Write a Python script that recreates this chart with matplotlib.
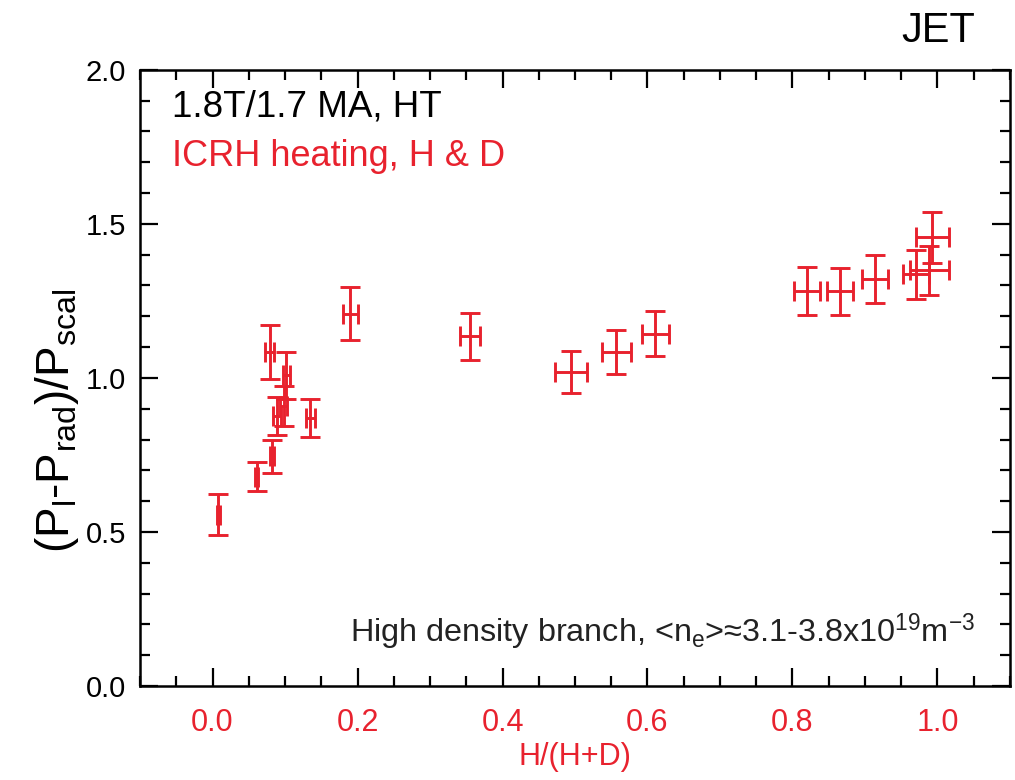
import matplotlib
matplotlib.use("Agg")
import matplotlib.pyplot as plt
from matplotlib.ticker import MultipleLocator

plt.rcParams['font.family'] = ['Liberation Sans', 'DejaVu Sans']
plt.rcParams['mathtext.default'] = 'regular'

# Data
h_frac = [0.008, 0.061, 0.082, 0.079, 0.089, 0.098, 0.102, 0.135, 0.190,
          0.355, 0.495, 0.557, 0.611, 0.820, 0.865, 0.914, 0.970, 0.989, 0.993]
p_ratio = [0.556, 0.680, 0.745, 1.084, 0.877, 0.908, 1.008, 0.870, 1.209,
           1.135, 1.018, 1.084, 1.144, 1.283, 1.281, 1.322, 1.336, 1.349, 1.456]
x_err = [0.002, 0.002, 0.003, 0.006, 0.006, 0.005, 0.005, 0.0065, 0.010,
         0.014, 0.022, 0.020, 0.018, 0.018, 0.018, 0.018, 0.018, 0.027, 0.023]
y_err = [0.067, 0.047, 0.053, 0.088, 0.061, 0.065, 0.075, 0.062, 0.086,
         0.076, 0.068, 0.072, 0.072, 0.078, 0.076, 0.078, 0.080, 0.080, 0.083]

x_ticks = [0.0, 0.2, 0.4, 0.6, 0.8, 1.0]
y_ticks = [0.0, 0.5, 1.0, 1.5, 2.0]

RED = '#E8222E'
NARROW = ['Liberation Sans Narrow', 'Liberation Sans', 'DejaVu Sans']

fig = plt.figure(figsize=(10.15, 7.8), dpi=100)
ax = fig.add_axes([0.138, 0.1205, 0.857, 0.79])

ax.errorbar(h_frac, p_ratio, xerr=x_err, yerr=y_err, fmt='none',
            ecolor=RED, elinewidth=2.1, capsize=7.5, capthick=2.1)

ax.set_xlim(-0.1, 1.1)
ax.set_ylim(0.0, 2.0)
ax.set_xticks(x_ticks)
ax.set_yticks(y_ticks)
ax.set_xticklabels([f'{v:.1f}' for v in x_ticks], color=RED, fontsize=22)
ax.set_yticklabels([f'{v:.1f}' for v in y_ticks], color='black', fontsize=21)
ax.xaxis.set_minor_locator(MultipleLocator(0.05))
ax.yaxis.set_minor_locator(MultipleLocator(0.1))
ax.tick_params(which='both', direction='in', top=True, right=True, width=1.6, color='black')
ax.tick_params(which='major', length=13)
ax.tick_params(which='minor', length=7)
ax.tick_params(axis='x', which='major', pad=16)
ax.tick_params(axis='y', which='major', pad=10)
for s in ax.spines.values():
    s.set_linewidth(1.8)

ax.set_xlabel('H/(H+D)', color=RED, family=NARROW, fontsize=22, labelpad=3)
ax.set_ylabel(r'(P$_{l}$-P$_{rad}$)/P$_{scal}$', fontsize=33)
ax.yaxis.set_label_coords(-0.068, 0.43)

ax.text(0.037, 0.924, '1.8T/1.7 MA, HT', transform=ax.transAxes,
        fontsize=26.5, color='black', ha='left', va='baseline')
ax.text(0.037, 0.844, 'ICRH heating, H & D', transform=ax.transAxes,
        fontsize=26, color=RED, ha='left', va='baseline')
ax.text(0.96, 0.07, r'High density branch, <n$_e$>≈3.1-3.8x10$^{19}$m$^{-3}$',
        transform=ax.transAxes, fontsize=23.3, color='#222222', ha='right', va='baseline')

fig.text(0.9606, 0.946, 'JET', fontsize=30, color='black', ha='right', va='baseline')

fig.savefig('out.png', dpi=100)
